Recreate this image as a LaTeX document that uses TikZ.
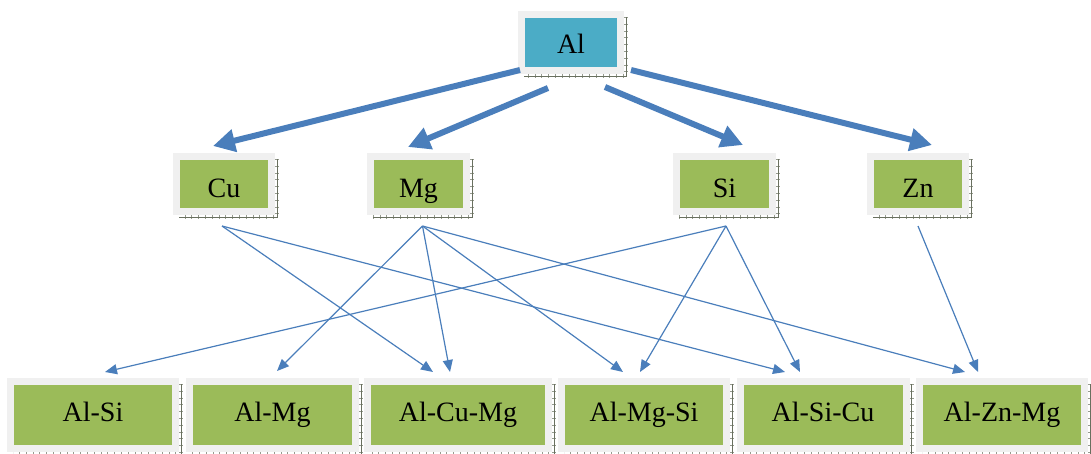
\documentclass[tikz,border=0pt]{standalone}
\usepackage{fontspec}
\setmainfont{Liberation Serif}
\usetikzlibrary{arrows.meta}
\definecolor{arrowblue}{RGB}{74,126,187}
\definecolor{boxgreen}{RGB}{155,187,89}
\definecolor{boxblue}{RGB}{75,172,198}
\definecolor{framegray}{RGB}{240,240,240}
\definecolor{shadowgray}{RGB}{105,112,95}
\begin{document}
\begin{tikzpicture}[x=1pt,y=1pt,
  box/.style={fill=boxgreen, draw=framegray, line width=7pt, inner sep=0pt,
    font=\fontsize{28}{30}\selectfont, text=black},
  topbox/.style={box, fill=boxblue, text height=21pt, text depth=0pt},
  midbox/.style={box, text height=26pt, text depth=0pt},
  lowbox/.style={box, text height=19pt, text depth=7pt},
  thickarrow/.style={draw=arrowblue, line width=6pt, -{Triangle[length=22pt,width=22pt]}},
  thinarrow/.style={draw=arrowblue, line width=1.2pt, -{Triangle[length=12pt,width=10pt]}},
  shadowline/.style={draw=shadowgray, line width=0.9pt},
  shadowtick/.style={draw=shadowgray!70, line width=4pt, dash pattern=on 0.8pt off 6pt}
]
\useasboundingbox (0,0) rectangle (1091,-453);

% top
\node[topbox, minimum width=99pt, minimum height=56pt] (al) at (571,-42.5) {Al};
% middle
\node[midbox, minimum width=95pt, minimum height=55pt] (cu) at (224,-184) {Cu};
\node[midbox, minimum width=96pt, minimum height=55pt] (mg) at (418.5,-184) {Mg};
\node[midbox, minimum width=96pt, minimum height=55pt] (si) at (724.5,-184) {Si};
\node[midbox, minimum width=95pt, minimum height=55pt] (zn) at (918,-184) {Zn};
% bottom
\node[lowbox, minimum width=165pt, minimum height=67pt] (alsi) at (93,-415) {Al-Si};
\node[lowbox, minimum width=166pt, minimum height=67pt] (almg) at (272.5,-415) {Al-Mg};
\node[lowbox, minimum width=181pt, minimum height=67pt] (alcumg) at (458,-415) {Al-Cu-Mg};
\node[lowbox, minimum width=165pt, minimum height=67pt] (almgsi) at (644,-415) {Al-Mg-Si};
\node[lowbox, minimum width=166pt, minimum height=67pt] (alsicu) at (823,-415) {Al-Si-Cu};
\node[lowbox, minimum width=165pt, minimum height=67pt] (alznmg) at (1002,-415) {Al-Zn-Mg};

% shadows
\foreach \n in {al,cu,mg,si,zn,alsi,almg,alcumg,almgsi,alsicu,alznmg}{
  \draw[shadowtick] ([shift={(2,-6)}]\n.north east) -- ([shift={(2,-2)}]\n.south east) -- ([shift={(6,-2)}]\n.south west);
  \draw[shadowline] ([shift={(2,-6)}]\n.north east) -- ([shift={(2,-2)}]\n.south east) -- ([shift={(6,-2)}]\n.south west);
}

% thick arrows from Al
\draw[thickarrow] ([shift={(2,4)}]al.south west) -- ([shift={(-11,7)}]cu.north);
\draw[thickarrow] ([shift={(-23,-14)}]al.south) -- ([shift={(-10.5,6)}]mg.north);
\draw[thickarrow] ([shift={(34,-13)}]al.south) -- ([shift={(18.5,8)}]si.north);
\draw[thickarrow] ([shift={(7,4)}]al.south east) -- ([shift={(14,8)}]zn.north);

% start points of thin arrows
\coordinate (cuo) at ([shift={(-2,-11)}]cu.south);
\coordinate (mgo) at ([shift={(4,-11)}]mg.south);
\coordinate (sio) at ([shift={(1.5,-11)}]si.south);
\coordinate (zno) at ([shift={(0,-11)}]zn.south);

% thin arrows
\draw[thinarrow] (cuo) -- ([shift={(-25,6)}]alcumg.north);
\draw[thinarrow] (cuo) -- ([shift={(-38,6)}]alsicu.north);
\draw[thinarrow] (mgo) -- ([shift={(4.5,7)}]almg.north);
\draw[thinarrow] (mgo) -- ([shift={(-8,6)}]alcumg.north);
\draw[thinarrow] (mgo) -- ([shift={(-21,6)}]almgsi.north);
\draw[thinarrow] (mgo) -- ([shift={(-37,6)}]alznmg.north);
\draw[thinarrow] (sio) -- ([shift={(12,6)}]alsi.north);
\draw[thinarrow] (sio) -- ([shift={(-4,6)}]almgsi.north);
\draw[thinarrow] (sio) -- ([shift={(-23,6)}]alsicu.north);
\draw[thinarrow] (zno) -- ([shift={(-24,6)}]alznmg.north);
\end{tikzpicture}
\end{document}
